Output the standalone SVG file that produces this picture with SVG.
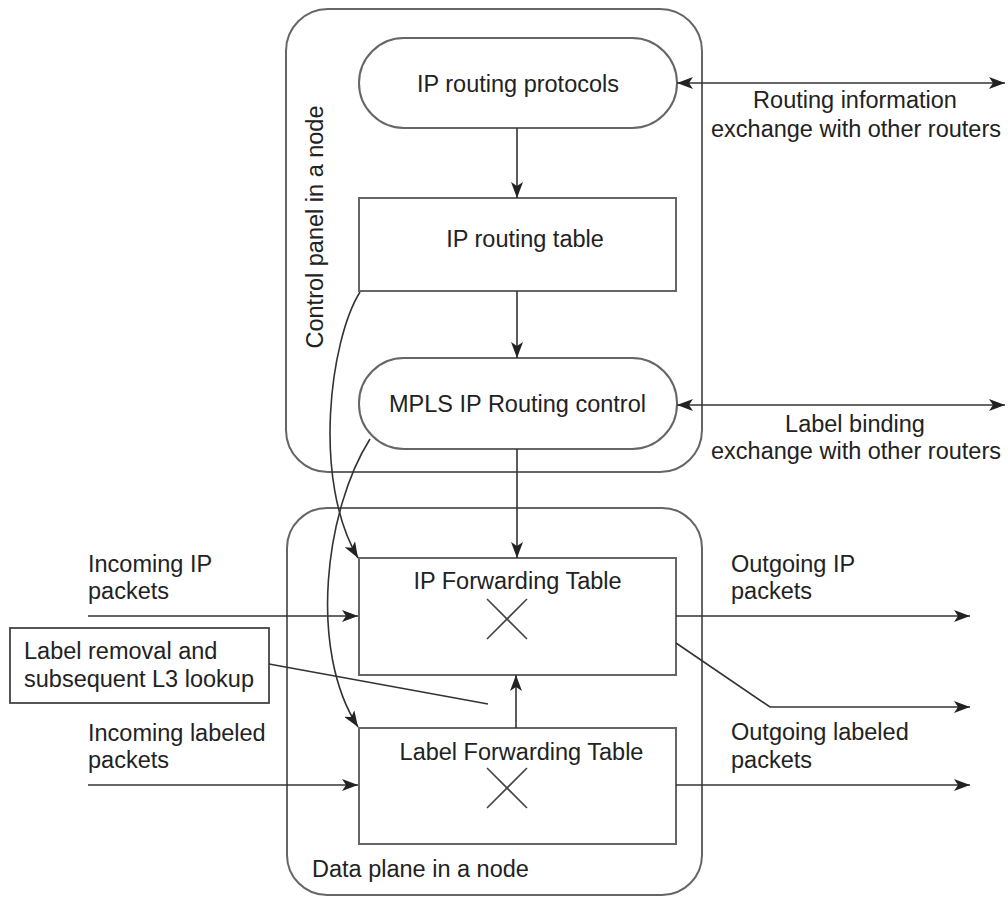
<svg xmlns="http://www.w3.org/2000/svg" width="1008" height="897" viewBox="0 0 1008 897">
<defs>
<style>
text{font-family:"Liberation Sans",Arial,sans-serif;font-size:23.5px;fill:#222}
.c{text-anchor:middle}
.frame{fill:none;stroke:#666;stroke-width:2}
.box{fill:#fff;stroke:#666;stroke-width:2}
.ln{fill:none;stroke:#333;stroke-width:1.6}
.ar{fill:none;stroke:#333;stroke-width:1.6;marker-end:url(#ah)}
.ar2{fill:none;stroke:#333;stroke-width:1.6;marker-end:url(#ah);marker-start:url(#ah)}
.x{stroke:#444;stroke-width:1.6}
</style>
<marker id="ah" viewBox="0 0 16 12" refX="16" refY="6" markerWidth="16" markerHeight="12" markerUnits="userSpaceOnUse" orient="auto-start-reverse">
<path d="M0,0 L16,6 L0,12 L4,6 z" fill="#222"/>
</marker>
</defs>
<rect width="1008" height="897" fill="#fff"/>

<g id="control-panel">
<rect class="frame" x="286" y="9" width="416" height="463" rx="42"/>
<text class="c" transform="translate(323,227) rotate(-90)">Control panel in a node</text>
</g>
<g id="data-plane">
<rect class="frame" x="287" y="508" width="415" height="387" rx="40"/>
<text x="312" y="877">Data plane in a node</text>
</g>

<g id="ip-routing-protocols">
<rect class="box" x="359" y="38" width="318" height="90" rx="45"/>
<text class="c" x="518" y="92">IP routing protocols</text>
</g>
<g id="ip-routing-table">
<rect class="box" x="359" y="198" width="317" height="93"/>
<text class="c" x="525" y="247">IP routing table</text>
</g>
<g id="mpls-ip-routing-control">
<rect class="box" x="359" y="358" width="318" height="91" rx="45"/>
<text class="c" x="517.5" y="412">MPLS IP Routing control</text>
</g>
<g id="ip-forwarding-table">
<rect class="box" x="359" y="558" width="317" height="117"/>
<text class="c" x="517.5" y="589">IP Forwarding Table</text>
<line class="x" x1="487" y1="599" x2="527" y2="639"/>
<line class="x" x1="527" y1="599" x2="487" y2="639"/>
</g>
<g id="label-forwarding-table">
<rect class="box" x="359" y="728" width="317" height="116"/>
<text class="c" x="521.5" y="760">Label Forwarding Table</text>
<line class="x" x1="487" y1="768" x2="527" y2="808"/>
<line class="x" x1="527" y1="768" x2="487" y2="808"/>
</g>
<g id="label-removal-note">
<rect x="10" y="628" width="259" height="75" fill="#fff" stroke="#444" stroke-width="1.8"/>
<text x="24" y="659">Label removal and</text>
<text x="24" y="687">subsequent L3 lookup</text>
</g>

<g id="labels">
<text x="88" y="572">Incoming IP</text>
<text x="88" y="599">packets</text>
<text x="88" y="741">Incoming labeled</text>
<text x="88" y="768">packets</text>
<text x="731" y="572">Outgoing IP</text>
<text x="731" y="599">packets</text>
<text x="731" y="740">Outgoing labeled</text>
<text x="731" y="768">packets</text>
<text class="c" x="855" y="108">Routing information</text>
<text class="c" x="856" y="137">exchange with other routers</text>
<text class="c" x="855" y="432">Label binding</text>
<text class="c" x="856" y="459">exchange with other routers</text>
</g>

<g id="connectors">
<line class="ar" x1="517" y1="128" x2="517" y2="198"/>
<line class="ar" x1="517" y1="291" x2="517" y2="358"/>
<line class="ar" x1="517" y1="449" x2="517" y2="558"/>
<line class="ar" x1="516" y1="728" x2="516" y2="675"/>
<line class="ar2" x1="677" y1="83" x2="1005" y2="83"/>
<line class="ar2" x1="677" y1="405" x2="1005" y2="405"/>
<path class="ar" d="M360,292 C330,340 312,480 358,558"/>
<path class="ar" d="M370,439 C325,510 308,650 358,727"/>
<line class="ar" x1="88" y1="616" x2="358" y2="616"/>
<line class="ar" x1="88" y1="785" x2="358" y2="785"/>
<line class="ar" x1="676" y1="616" x2="970" y2="616"/>
<path class="ar" d="M676,643 L770,707 L970,707"/>
<line class="ar" x1="676" y1="785" x2="970" y2="785"/>
<line class="ln" x1="269" y1="664" x2="488" y2="704"/>
</g>
</svg>
